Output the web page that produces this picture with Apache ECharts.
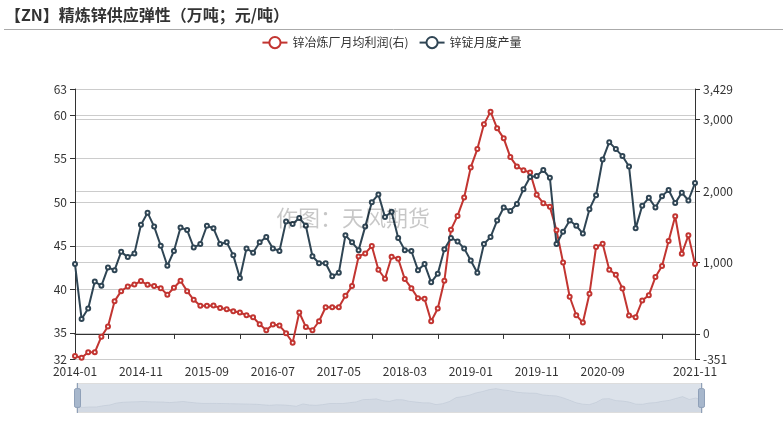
<!DOCTYPE html>
<html>
<head>
<meta charset="utf-8">
<script src="https://cdn.jsdelivr.net/npm/echarts@6/dist/echarts.min.js"></script>
<style>html,body{margin:0;padding:0;background:#fff}#c{width:783px;height:421px}</style>
</head>
<body>
<div id="c"></div>
<script>
// categories: 2014-01 .. 2021-11
const months = [];
for (let y = 2014; y <= 2021; y++) {
  for (let m = 1; m <= 12; m++) {
    if (y === 2021 && m > 11) break;
    months.push(y + '-' + (m < 10 ? '0' + m : m));
  }
}
const titleText = '【ZN】精炼锌供应弹性（万吨；元/吨）';
const profitName = '锌冶炼厂月均利润(右)';
const outputName = '锌锭月度产量';
const profit = [-309,-333,-257,-257,-38,103,459,599,664,692,740,688,670,641,548,646,744,599,477,393,393,397,363,346,318,300,262,234,136,51,131,117,10,-122,300,98,51,178,374,374,374,533,670,1085,1127,1231,899,772,1081,1053,768,641,500,491,178,356,744,1460,1652,1909,2331,2588,2934,3112,2878,2738,2476,2345,2290,2260,1947,1830,1779,1451,1001,520,262,159,562,1217,1264,899,828,637,257,234,468,543,796,950,1301,1647,1123,1380,978];
const output = [42.9,36.6,37.8,40.9,40.4,42.5,42.2,44.3,43.7,44.1,47.4,48.8,47.2,45.0,42.7,44.4,47.1,46.8,44.8,45.2,47.3,47.0,45.2,45.4,43.9,41.3,44.7,44.2,45.4,46.0,44.7,44.4,47.8,47.5,48.2,47.3,43.8,43.0,43.0,41.5,41.9,46.2,45.4,44.5,47.2,50.0,50.9,48.3,48.9,45.9,44.5,44.4,42.2,42.9,40.8,41.8,44.6,45.9,45.5,44.7,43.3,41.9,45.2,46.0,47.9,49.4,49.0,49.8,51.5,52.9,53.0,53.7,52.8,45.2,46.6,47.9,47.3,46.4,49.2,50.8,54.9,56.9,56.1,55.3,54.1,47.0,49.6,50.5,49.4,50.7,51.4,49.9,51.1,50.2,52.2];
const leftMin = 32, leftMax = 63, rightMin = -351, rightMax = 3429;
const labelIdx = [0,10,20,30,40,50,60,70,80,94];
const tickIdx = [5,15,25,35,45,55,65,75,89];

const chart = echarts.init(document.getElementById('c'));
const font = '"Microsoft YaHei","Noto Sans CJK SC",sans-serif';
chart.setOption({
  animation: false,
  color: ['#c23531', '#2f4554'],
  textStyle: { fontFamily: font },
  title: {
    text: titleText, left: 0, top: 2,
    textStyle: { fontSize: 16, fontWeight: 'bold', color: '#333', fontFamily: font }
  },
  graphic: [
    { type: 'line', shape: { x1: 4, y1: 29.5, x2: 783, y2: 29.5 }, style: { stroke: '#aaa', lineWidth: 1 }, silent: true },
    { type: 'text', left: 276, top: 207, silent: true, z: 100,
      style: { text: '作图：天风期货', fill: 'rgba(0,0,0,0.22)', fontSize: 22, fontFamily: font } }
  ],
  legend: {
    top: 31, left: 'center', itemWidth: 25, itemHeight: 14, itemGap: 10,
    textStyle: { color: '#333', fontSize: 12 },
    data: [profitName, outputName]
  },
  grid: { left: 75, right: 88, top: 89, bottom: 62, containLabel: false },
  xAxis: {
    type: 'category', data: months, boundaryGap: false,
    axisLine: { onZero: true, onZeroAxisIndex: 1, lineStyle: { color: '#333' } },
    axisTick: { interval: (i) => tickIdx.includes(i), length: 5 },
    axisLabel: { interval: (i) => labelIdx.includes(i), margin: 6, color: '#333', fontSize: 12 },
    splitLine: { show: false }
  },
  yAxis: [
    { type: 'value', min: leftMin, max: leftMax, position: 'left',
      axisLine: { show: true, lineStyle: { color: '#333' } },
      axisTick: { show: true },
      axisLabel: { color: '#333', fontSize: 12 },
      splitLine: { show: true, lineStyle: { color: '#ccc' } } },
    { type: 'value', min: rightMin, max: rightMax, position: 'right',
      axisLine: { show: true, lineStyle: { color: '#333' } },
      axisTick: { show: true },
      axisLabel: { color: '#333', fontSize: 12 },
      splitLine: { show: true, lineStyle: { color: '#ccc' } } }
  ],
  dataZoom: [{
    type: 'slider', xAxisIndex: 0, start: 0, end: 100,
    left: 74, right: 83, top: 383, height: 30,
    showDetail: false,
    backgroundColor: 'rgba(47,69,84,0)',
    borderColor: '#ddd',
    fillerColor: 'rgba(167,183,203,0.4)',
    dataBackground: { lineStyle: { color: '#c6ccd6', width: 0.5 }, areaStyle: { color: '#d3d8e0' } },
    selectedDataBackground: { lineStyle: { color: '#c6ccd6', width: 0.5 }, areaStyle: { color: '#c9cfd9' } },
    handleStyle: { color: '#a7b7cc', borderColor: '#8fa0b8' },
    moveHandleSize: 0
  }],
  series: [
    { name: profitName, type: 'line', yAxisIndex: 1, data: profit, showAllSymbol: true,
      symbol: 'emptyCircle', symbolSize: 4, itemStyle: { borderWidth: 1 }, lineStyle: { width: 2 } },
    { name: outputName, type: 'line', yAxisIndex: 0, data: output, showAllSymbol: true,
      symbol: 'emptyCircle', symbolSize: 4, itemStyle: { borderWidth: 1 }, lineStyle: { width: 2 } }
  ]
});
</script>
</body>
</html>
